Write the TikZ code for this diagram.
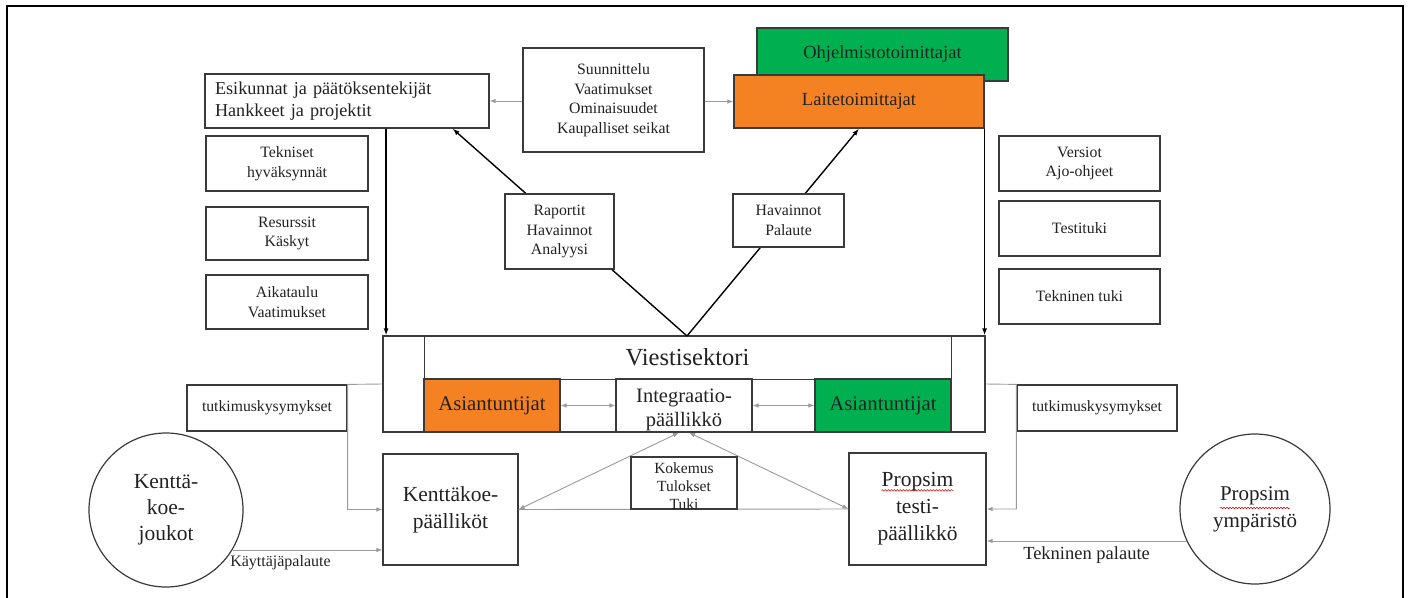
\documentclass[tikz,border=0pt]{standalone}
\usepackage{fontspec}
\setmainfont{Liberation Serif}
\newfontfamily\tnrface{Liberation Serif}
\usetikzlibrary{arrows.meta,calc,decorations.pathmorphing}

\definecolor{boxline}{HTML}{3A3A3A}
\definecolor{linkgray}{HTML}{9A9A9A}
\definecolor{fillorange}{HTML}{F58222}
\definecolor{fillgreen}{HTML}{00B050}
\definecolor{inktext}{HTML}{222222}

\newcommand\fsz[2]{\tnrface\fontsize{#1}{#2}\selectfont}

\tikzset{
  box/.style={draw=boxline, line width=1.2pt, fill=white, inner sep=0pt,
              align=center, text=inktext},
  wh/.style 2 args={minimum width=#1pt, minimum height=#2pt},
  smalltxt/.style={font=\fsz{15.8}{19.5}},
  midtxt/.style={font=\fsz{18.5}{22}},
  bigtxt/.style={font=\fsz{21.5}{27}},
  roundbox/.style={draw=boxline, line width=1.2pt, fill=white, circle,
              inner sep=0pt, align=center, text=inktext},
  darrow/.style={draw=black, line width=1.4pt, -{Latex[length=7pt,width=5pt]}},
  garrow/.style={draw=linkgray, line width=0.9pt, -{Latex[length=6pt,width=4.5pt]}},
  gboth/.style={draw=linkgray, line width=0.9pt, {Latex[length=6pt,width=4.5pt]}-{Latex[length=6pt,width=4.5pt]}},
  gline/.style={draw=linkgray, line width=0.9pt},
  squig/.style={draw=red!75!black, line width=0.5pt, decorate,
              decoration={snake, amplitude=0.8pt, segment length=3pt}},
}

\begin{document}
\begin{tikzpicture}[x=1pt, y=-1pt]
\useasboundingbox (0,0) rectangle (1410,597);

% page frame (open at the bottom)
\draw[line width=1.3pt, black] (7,610) -- (7,6) -- (1403,6) -- (1403,610);

% suppliers
\node[box, wh={251}{53}, fill=fillgreen, midtxt] (ohj) at (882.5,54.5) {Ohjelmistotoimittajat};
\node[box, wh={250}{53}, fill=fillorange, midtxt] (lait) at (859,101.5) {Laitetoimittajat};

% headquarters and planning
\node[box, text width=264pt, inner xsep=10pt, minimum height=54pt, align=left,
      font=\fsz{18.2}{22}] (esik) at (347,101)
      {Esikunnat ja päätöksentekijät\\Hankkeet ja projektit};
\node[box, wh={181}{104}, smalltxt] (suun) at (613.5,100)
      {Suunnittelu\\Vaatimukset\\Ominaisuudet\\Kaupalliset seikat};

% left column
\node[box, wh={162}{55}, smalltxt] (tekn) at (287,163.5) {Tekniset\\hyväksynnät};
\node[box, wh={162}{53}, smalltxt] (resu) at (287,233.5) {Resurssit\\Käskyt};
\node[box, wh={162}{54}, smalltxt] (aika) at (287,302) {Aikataulu\\Vaatimukset};

% right column
\node[box, wh={161}{55}, smalltxt] (vers) at (1079.5,163.5) {Versiot\\Ajo-ohjeet};
\node[box, wh={161}{55}, smalltxt] (test) at (1079.5,228.5) {Testituki};
\node[box, wh={161}{55}, smalltxt] (tekt) at (1079.5,296.5) {Tekninen tuki};

% signal sector
\node[box, wh={602}{96}] (viest) at (684,384) {};
\node[box, wh={527}{43}, line width=0.8pt, font=\fsz{24.5}{28}] (vs) at (687.5,357.5) {Viestisektori};
\node[box, wh={136}{53}, fill=fillorange, font=\fsz{20.8}{24}] (asL) at (492,405.5) {Asiantuntijat};
\node[box, wh={136}{53},
      label={[yshift=-4pt, align=center, text=inktext, font=\fsz{20.5}{24}]center:{Integraatio-\\päällikkö}}]
      (integ) at (684,405.5) {};
\node[box, wh={136}{53}, fill=fillgreen, font=\fsz{20.8}{24}] (asR) at (883,405.5) {Asiantuntijat};

% research questions
\node[box, wh={160}{46}, font=\fsz{15.7}{18}] (tutL) at (267,408) {tutkimuskysymykset};
\node[box, wh={160}{46}, font=\fsz{15.7}{18}] (tutR) at (1097,408) {tutkimuskysymykset};

% test managers
\node[box, wh={135}{111}, bigtxt] (kk) at (450.5,509.5) {Kenttäkoe-\\päälliköt};
\node[box, wh={137}{112}, bigtxt] (pt) at (917.5,509) {Propsim\\testi-\\päällikkö};

% field troops and test environment
\node[roundbox, minimum size=154pt, font=\fsz{21.5}{26}] (cL) at (166,510) {Kenttä-\\koe-\\joukot};
\node[roundbox, minimum size=150pt, font=\fsz{21}{27}] (cR) at (1255,509) {Propsim\\ympäristö};

% planning to headquarters and suppliers
\draw[garrow] (suun.west |- esik.east) -- (esik.east);
\draw[garrow] (suun.east |- lait.west) -- (lait.west);

% reports up from the signal sector
\coordinate (apex) at (687,336);
\coordinate (esikR) at ($(esik.south west)!0.87!(esik.south east)$);
\coordinate (esikL) at ($(esik.south west)!0.637!(esik.south east)$);
\draw[darrow] (apex) -- (esikR);
\draw[darrow] (apex) -- (lait.south);

% orders down to the signal sector
\draw[darrow] (esikL) -- (esikL |- viest.north);
\draw[darrow] (lait.south east) -- (lait.south east |- viest.north);

% experts and integration manager
\draw[gboth] (asL.east) -- (integ.west);
\draw[gboth] (integ.east) -- (asR.west);

% research questions to test managers
\draw[garrow] (viest.west) -- (tutL.north east) -- (tutL.north east |- kk.west) -- (kk.west);
\draw[garrow] (viest.east) -- (tutR.north west) -- (tutR.north west |- pt.east) -- (pt.east);

% feedback
\draw[garrow] (cL.-31) -- (cL.-31 -| kk.west)
      node[pos=0.32, below=2pt, font=\fsz{16}{18}, text=inktext] {Käyttäjäpalaute};
\draw[garrow] (cR.205) -- (cR.205 -| pt.east)
      node[midway, below=2pt, font=\fsz{18.5}{20}, text=inktext] {Tekninen palaute};

% experience between managers
\draw[gboth] (kk.east) -- ($(viest.south)+(-5,0)$);
\draw[gboth] (pt.west) -- ($(viest.south)+(5,0)$);
\draw[gline] (kk.east) -- (pt.west);

% labels on the links
\node[box, wh={109}{75}, smalltxt] (rap) at (559.5,231.5) {Raportit\\Havainnot\\Analyysi};
\node[box, wh={111}{53}, smalltxt] (hav) at (788.5,220.5) {Havainnot\\Palaute};
\node[box, wh={106}{52},
      label={[yshift=-3pt, align=center, text=inktext, font=\fsz{15.5}{18}]center:{Kokemus\\Tulokset\\Tuki}}]
      (kok) at (684,483) {};

% spelling marks under the product name
\draw[squig] ($(pt.north)+(-36,38)$) -- ++(72,0);
\draw[squig] ($(cR.center)+(-35,-1)$) -- ++(70,0);
\end{tikzpicture}
\end{document}
